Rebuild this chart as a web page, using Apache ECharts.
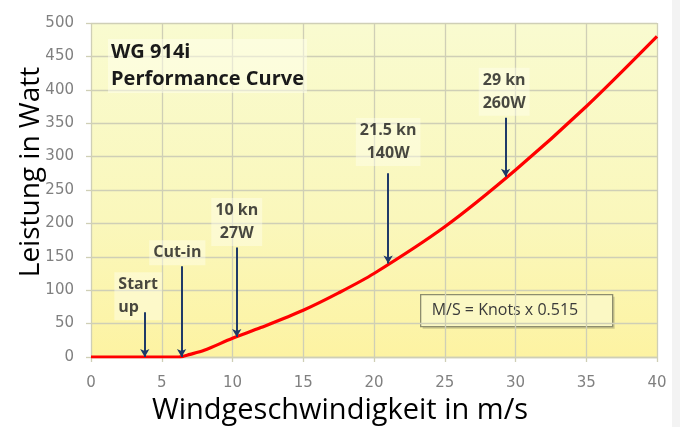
<!DOCTYPE html>
<html>
<head>
<meta charset="utf-8">
<script src="https://cdn.jsdelivr.net/npm/echarts@6/dist/echarts.min.js"></script>
<style>html,body{margin:0;padding:0;background:#fff}#c{width:680px;height:427px}</style>
</head>
<body>
<div id="c"></div>
<script>
// Data
const xTicks = [0, 5, 10, 15, 20, 25, 30, 35, 40];
const yTicks = [0, 50, 100, 150, 200, 250, 300, 350, 400, 450, 500];
const windSpeed = [0, 6.2, 7, 8, 10, 12, 15, 17.5, 20, 25, 30, 35, 40];
const power     = [0, 0, 4, 10, 28, 44, 70, 96, 125, 195, 280, 375, 480];
// annotation arrows: x position, arrow start value, arrow tip value
const arrowX    = [3.8, 6.4, 10.3, 21.0, 29.3];
const arrowTop  = [67, 136, 164, 275, 358];
const arrowTip  = [0, 0, 30, 140, 270];
const noteText  = ['Start\nup', 'Cut-in', '10 kn\n27W', '21.5 kn\n140W', '29 kn\n260W'];
const noteX     = [1.65, 6.1, 10.3, 21.0, 29.2];
const noteY     = [91, 156, 202, 322, 397];
const noteAlign = ['left', 'center', 'center', 'center', 'center'];
const titleLines = ['WG 914i', 'Performance Curve'];
const boxText = 'M/S = Knots x 0.515';

const chart = echarts.init(document.getElementById('c'));
const gridCol = '#cfcfb6';
const tickFont = 'DejaVu Sans';
const noteFont = 'Open Sans';

const curve = windSpeed.map((x, i) => [x, power[i]]);
const arrows = arrowX.map((x, i) => [
  { coord: [x, arrowTop[i]] },
  { coord: [x, arrowTip[i]] }
]);
const notes = noteX.map((x, i) => ({
  value: [x, noteY[i]],
  label: { align: noteAlign[i] }
}));

chart.setOption({
  animation: false,
  grid: {
    left: 91, right: 23, top: 23, bottom: 70,
    outerBoundsMode: 'none',
    containLabel: false,
    show: true,
    borderWidth: 0,
    backgroundColor: new echarts.graphic.LinearGradient(0, 0, 0, 1, [
      { offset: 0, color: '#f9fbd0' },
      { offset: 0.6, color: '#faf7bb' },
      { offset: 1, color: '#fdf3a2' }
    ])
  },
  xAxis: {
    type: 'value', min: 0, max: 40, interval: 5,
    name: 'Windgeschwindigkeit in m/s',
    nameLocation: 'middle', nameGap: 39,
    nameMoveOverlap: false,
    nameTextStyle: { fontFamily: 'Open Sans', fontSize: 29, color: '#000', padding: [0, 68, 0, 0] },
    axisLine: { show: true, lineStyle: { color: gridCol, width: 1.3 } },
    axisTick: { show: true, length: 5, lineStyle: { color: gridCol, width: 1.3 } },
    axisLabel: { color: '#808080', fontFamily: tickFont, fontSize: 15, margin: 19 },
    splitLine: { show: true, lineStyle: { color: gridCol, width: 1.3 } }
  },
  yAxis: {
    type: 'value', min: 0, max: 500, interval: 50,
    name: 'Leistung in Watt',
    nameLocation: 'middle', nameGap: 46,
    nameMoveOverlap: false,
    nameTextStyle: { fontFamily: 'Open Sans', fontSize: 28, color: '#000', padding: [0, 0, 0, 36] },
    axisLine: { show: false },
    axisTick: { show: true, length: 5, lineStyle: { color: gridCol, width: 1.3 } },
    axisLabel: { color: '#808080', fontFamily: tickFont, fontSize: 15, margin: 17 },
    splitLine: { show: true, lineStyle: { color: gridCol, width: 1.3 } }
  },
  series: [
    {
      type: 'line',
      data: curve,
      smooth: 0.3,
      showSymbol: false,
      lineStyle: { color: '#ff0000', width: 3.2 },
      z: 3
    },
    {
      type: 'scatter',
      data: notes,
      symbolSize: 0,
      silent: true,
      z: 4,
      label: {
        show: true,
        position: 'inside',
        formatter: (p) => noteText[p.dataIndex],
        fontFamily: noteFont, fontWeight: 'bold', fontSize: 16, color: '#1a1a1a',
        lineHeight: 23,
        backgroundColor: 'rgba(255,255,238,0.55)',
        padding: [1, 4]
      },
      markLine: {
        silent: true,
        symbol: ['none', 'arrow'],
        symbolSize: [7, 8],
        label: { show: false },
        lineStyle: { color: '#1f3a68', width: 2, type: 'solid' },
        data: arrows
      }
    }
  ],
  graphic: [
    {
      type: 'text', left: 108, top: 39, z: 10,
      style: {
        text: titleLines.join('\n'),
        font: 'bold 20px "Open Sans"', fill: '#1a1a1a', lineHeight: 27,
        backgroundColor: 'rgba(255,255,238,0.5)', padding: [0, 3]
      }
    },
    {
      type: 'group', left: 420, top: 294, z: 10,
      children: [
        { type: 'rect', shape: { x: 2, y: 2, width: 192, height: 32 }, style: { fill: 'rgba(120,120,90,0.35)' } },
        { type: 'rect', shape: { x: 0, y: 0, width: 192, height: 32 },
          style: { fill: '#fbf8c4', stroke: '#8d8d6e', lineWidth: 1.3 } },
        { type: 'text', x: 11, y: 16,
          style: { text: boxText, font: '16px "Open Sans"', fill: '#3a3a3a', verticalAlign: 'middle' } }
      ]
    },
    {
      type: 'rect', right: 0, top: 0, z: 0,
      shape: { width: 8, height: 427 },
      style: { fill: '#f3f3f3' }
    }
  ]
});
</script>
</body>
</html>
